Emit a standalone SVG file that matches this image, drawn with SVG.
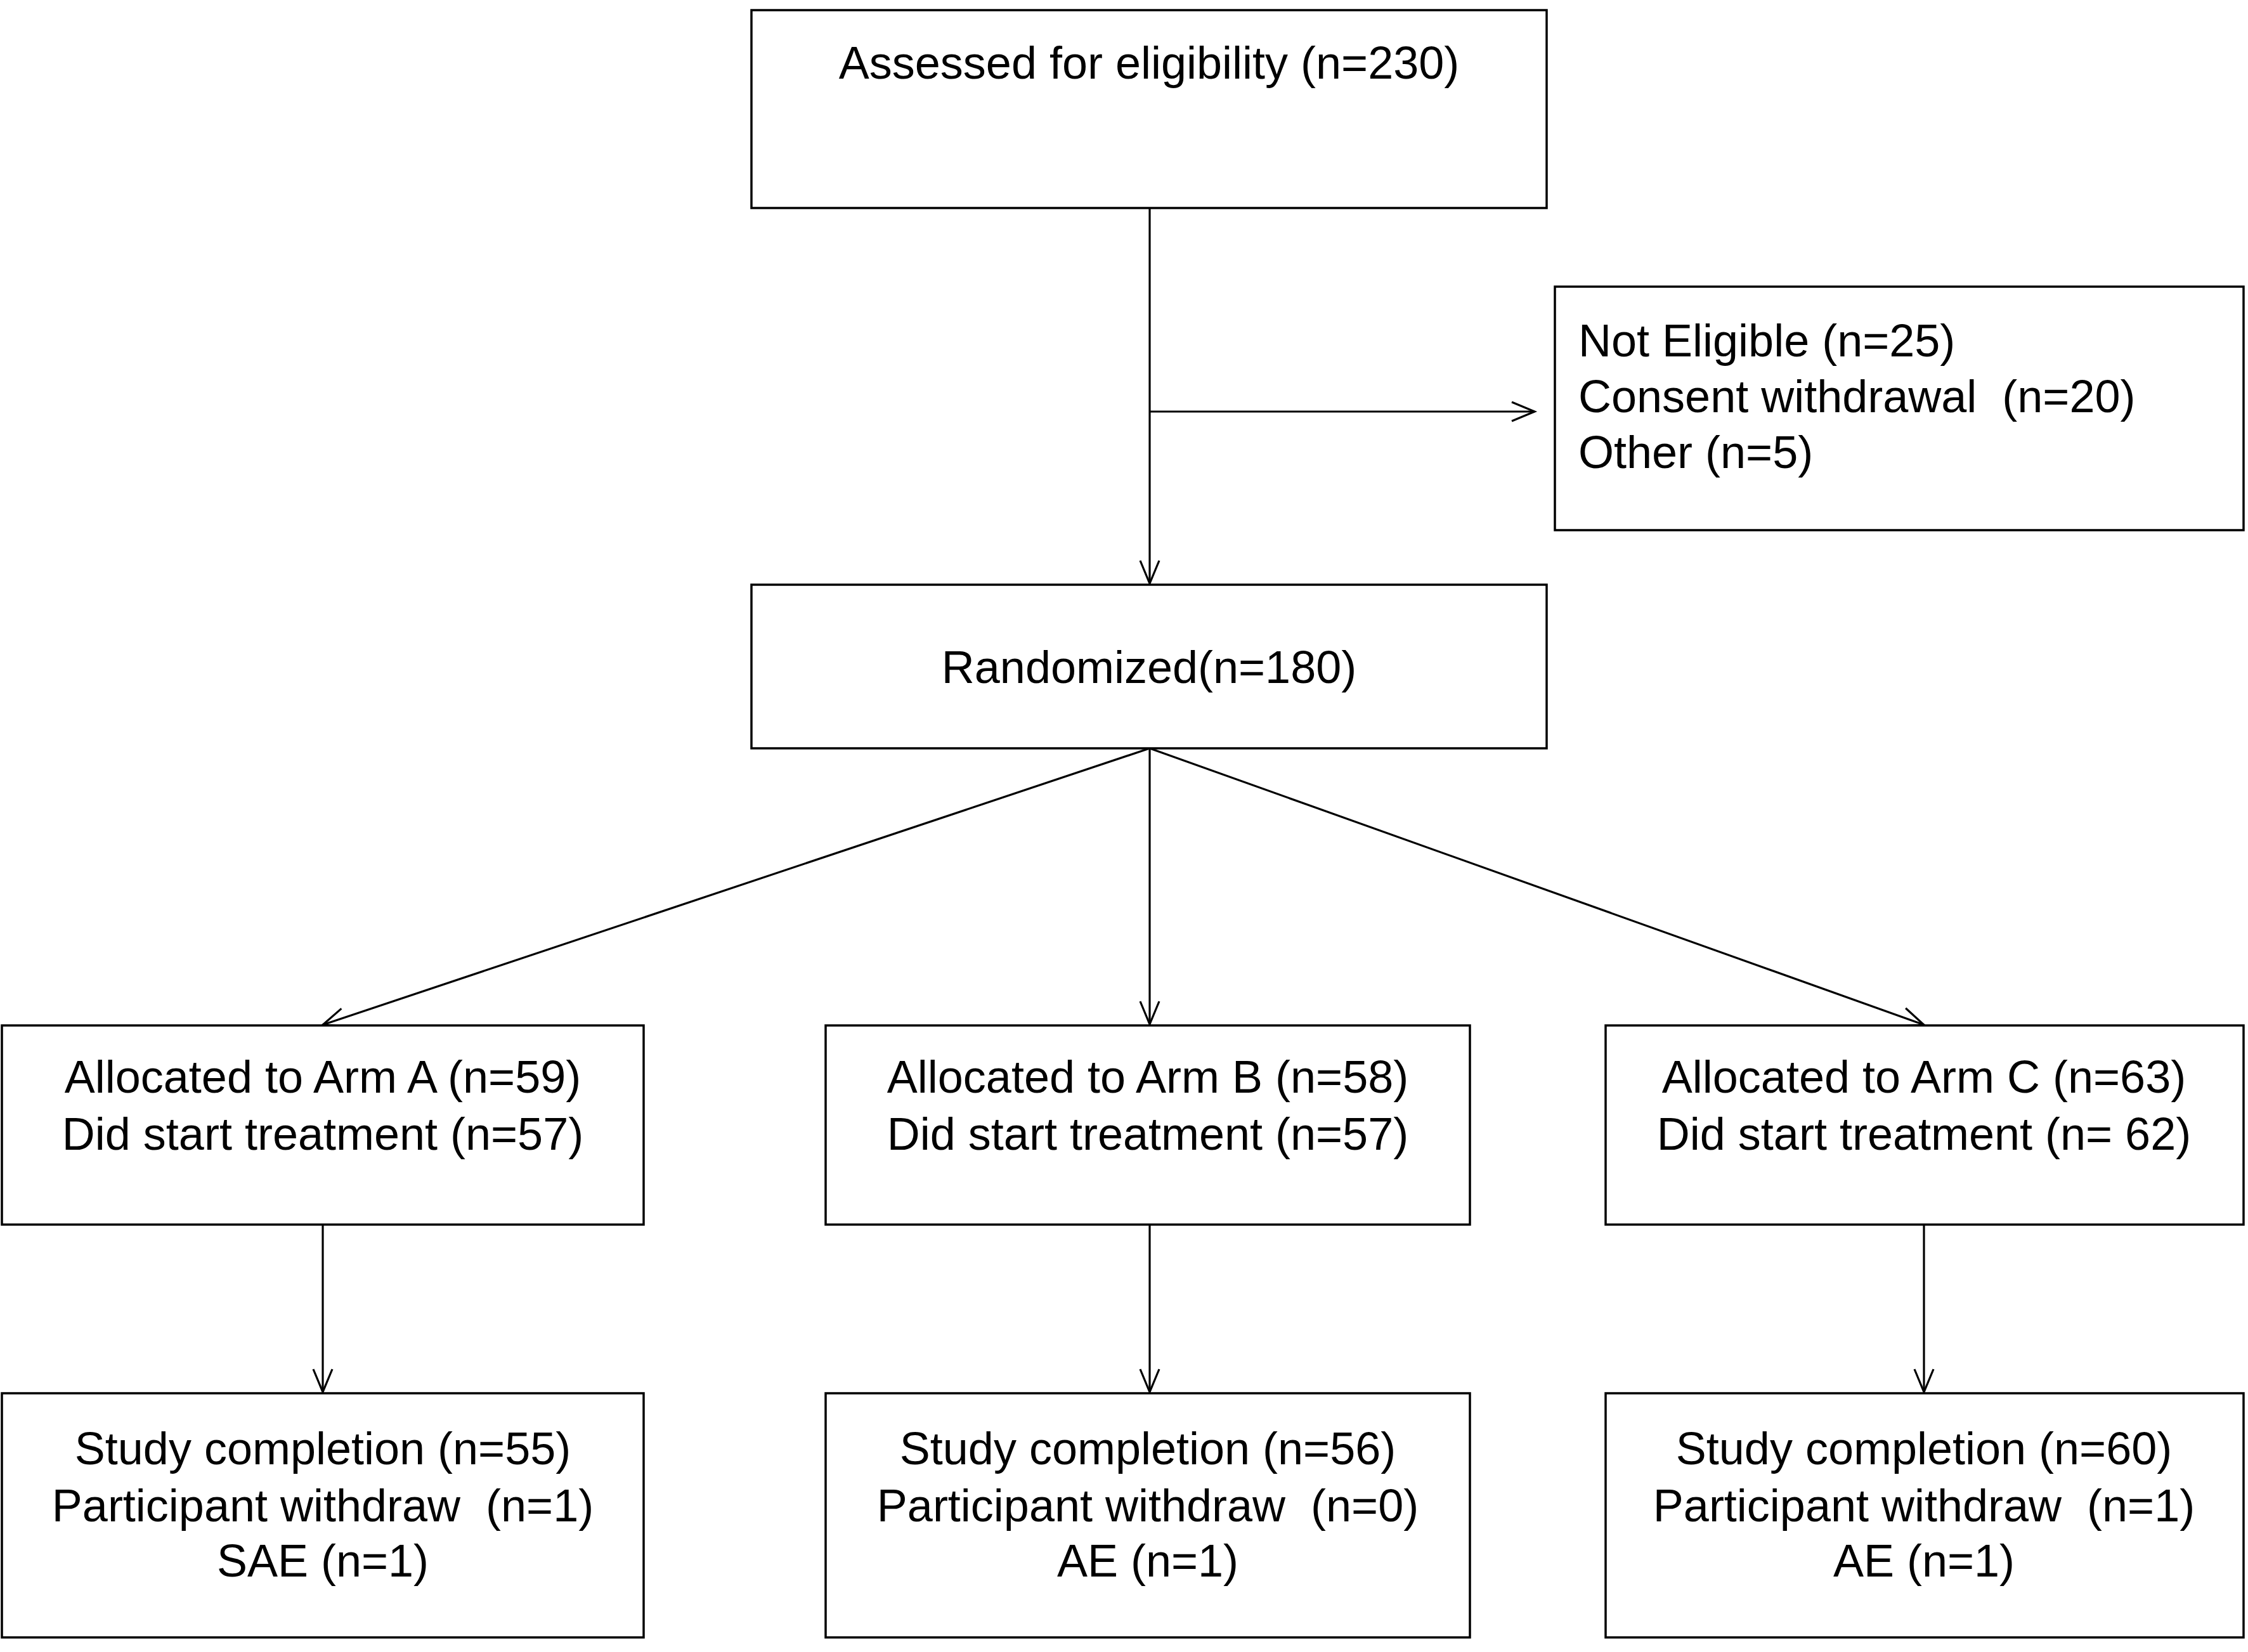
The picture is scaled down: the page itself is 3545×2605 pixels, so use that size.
<svg xmlns="http://www.w3.org/2000/svg" width="3545" height="2605" viewBox="0 0 3545 2605">
<style>
.box{fill:#fff;stroke:#000;stroke-width:3.5}
.t{font-family:"Liberation Sans",Arial,sans-serif;font-size:72px;fill:#000;white-space:pre}
.c{text-anchor:middle}
.conn{fill:none;stroke:#000;stroke-width:3.2}
</style>
<defs>
<marker id="arr" markerUnits="userSpaceOnUse" markerWidth="50" markerHeight="50" refX="38" refY="20" orient="auto" overflow="visible">
<path d="M2,5 L38,20 L2,35" fill="none" stroke="#000" stroke-width="3.2"/>
</marker>
</defs>
<rect width="3545" height="2605" fill="#fff"/>
<g id="connectors">
<line class="conn" x1="1813" y1="328" x2="1813" y2="920" marker-end="url(#arr)"/>
<line class="conn" x1="1813" y1="649" x2="2420" y2="649" marker-end="url(#arr)"/>
<line class="conn" x1="1813" y1="1180" x2="509" y2="1616" marker-end="url(#arr)"/>
<line class="conn" x1="1813" y1="1180" x2="1813" y2="1615" marker-end="url(#arr)"/>
<line class="conn" x1="1813" y1="1180" x2="3034" y2="1616" marker-end="url(#arr)"/>
<line class="conn" x1="509" y1="1931" x2="509" y2="2195" marker-end="url(#arr)"/>
<line class="conn" x1="1813" y1="1931" x2="1813" y2="2195" marker-end="url(#arr)"/>
<line class="conn" x1="3034" y1="1931" x2="3034" y2="2195" marker-end="url(#arr)"/>
</g>
<g id="assessed">
<rect class="box" x="1185" y="16" width="1254" height="312"/>
<text class="t c" x="1812" y="124">Assessed for eligibility (n=230)</text>
</g>
<g id="excluded">
<rect class="box" x="2452" y="452" width="1086" height="384"/>
<text class="t" x="2489" y="562">Not Eligible (n=25)</text>
<text class="t" x="2489" y="650" xml:space="preserve">Consent withdrawal  (n=20)</text>
<text class="t" x="2489" y="738">Other (n=5)</text>
</g>
<g id="randomized">
<rect class="box" x="1185" y="922" width="1254" height="258"/>
<text class="t c" x="1812" y="1077">Randomized(n=180)</text>
</g>
<g id="armA">
<rect class="box" x="3" y="1617" width="1012" height="314"/>
<text class="t c" x="509" y="1723">Allocated to Arm A (n=59)</text>
<text class="t c" x="509" y="1813">Did start treatment (n=57)</text>
</g>
<g id="armB">
<rect class="box" x="1302" y="1617" width="1016" height="314"/>
<text class="t c" x="1810" y="1723">Allocated to Arm B (n=58)</text>
<text class="t c" x="1810" y="1813">Did start treatment (n=57)</text>
</g>
<g id="armC">
<rect class="box" x="2532" y="1617" width="1006" height="314"/>
<text class="t c" x="3034" y="1723">Allocated to Arm C (n=63)</text>
<text class="t c" x="3034" y="1813">Did start treatment (n= 62)</text>
</g>
<g id="completeA">
<rect class="box" x="3" y="2197" width="1012" height="385"/>
<text class="t c" x="509" y="2309">Study completion (n=55)</text>
<text class="t c" x="509" y="2399" xml:space="preserve">Participant withdraw  (n=1)</text>
<text class="t c" x="509" y="2486">SAE (n=1)</text>
</g>
<g id="completeB">
<rect class="box" x="1302" y="2197" width="1016" height="385"/>
<text class="t c" x="1810" y="2309">Study completion (n=56)</text>
<text class="t c" x="1810" y="2399" xml:space="preserve">Participant withdraw  (n=0)</text>
<text class="t c" x="1810" y="2486">AE (n=1)</text>
</g>
<g id="completeC">
<rect class="box" x="2532" y="2197" width="1006" height="385"/>
<text class="t c" x="3034" y="2309">Study completion (n=60)</text>
<text class="t c" x="3034" y="2399" xml:space="preserve">Participant withdraw  (n=1)</text>
<text class="t c" x="3034" y="2486">AE (n=1)</text>
</g>
</svg>
